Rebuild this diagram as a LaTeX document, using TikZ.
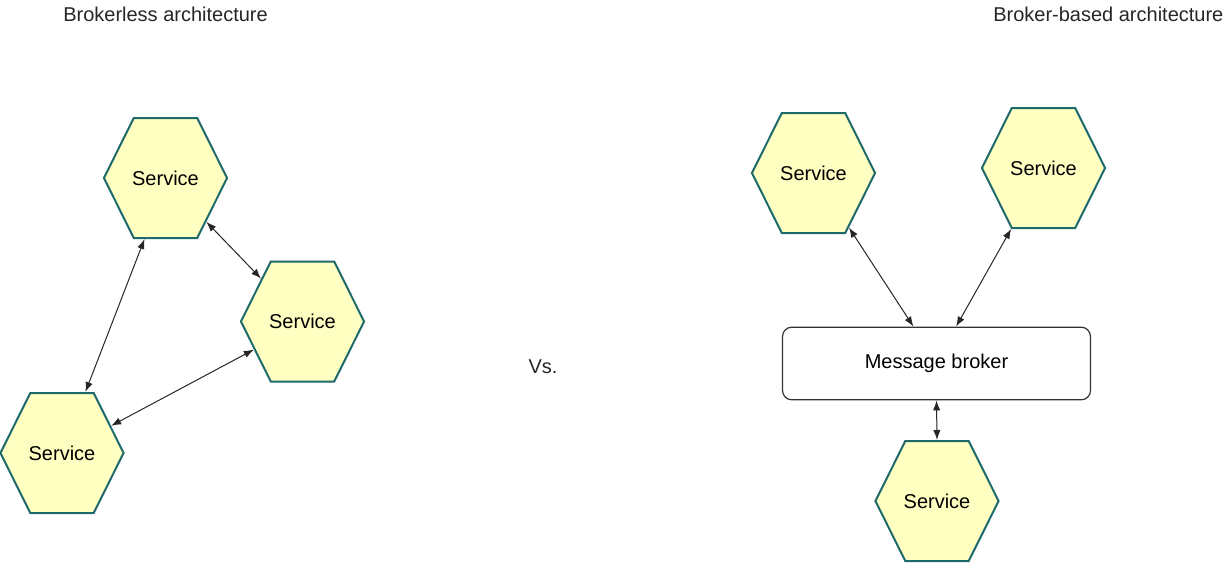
\documentclass[tikz,border=0pt]{standalone}
\usepackage{fontspec}
\setmainfont{Liberation Sans}
\usetikzlibrary{arrows.meta}
\usetikzlibrary{shapes.symbols}

\definecolor{hexfill}{HTML}{FFFFC2}
\definecolor{hexline}{HTML}{1E6A6A}

\tikzset{
  service/.style={signal, signal to=west and east, signal pointer angle=127,
    draw=hexline, fill=hexfill, line width=1.5pt, inner xsep=-1.25pt, inner ysep=0pt,
    minimum height=90pt,
    font=\fontsize{15}{18}\selectfont},
  broker/.style={draw=black!80, rounded corners=7pt, line width=0.9pt,
    minimum width=231pt, minimum height=54.5pt,
    font=\fontsize{15}{18}\selectfont},
  link/.style={{Latex[length=7.5pt,width=5.5pt]}-{Latex[length=7.5pt,width=5.5pt]},
    line width=0.75pt, black!85},
  caption/.style={font=\fontsize{15}{18}\selectfont, text=black!85, inner sep=0pt}
}

\begin{document}
\begin{tikzpicture}[x=0.75pt,y=-0.75pt]
\useasboundingbox (0,0) rectangle (1228,564);

% brokerless side
\node[caption, anchor=west] (lefttitle) at (63,14) {Brokerless architecture};
\node[service] (s1) at (165.5,178) {Service};
\node[service] (s2) at (302.5,321.5) {Service};
\node[service] (s3) at (62,453) {Service};

\draw[link] (s1.-109) -- (s3.69);
\draw[link] (s1.-47) -- (s2.134);
\draw[link] (s3.29) -- (s2.210);

\node[caption] (vs) at (543,367) {Vs.};

% broker-based side
\node[caption, anchor=west] (righttitle) at (993,14) {Broker-based architecture};
\node[service] (s4) at (813.5,173) {Service};
\node[service] (s5) at (1043.5,168) {Service};
\node[broker] (mb) at (936.5,363.5) {Message broker};
\node[service] (s6) at (937,501) {Service};

\draw[link] (s4.-57.5) -- (mb.122);
\draw[link] (s5.-118) -- (mb.62);
\draw[link] (mb.south) -- (s6.north);
\end{tikzpicture}
\end{document}
